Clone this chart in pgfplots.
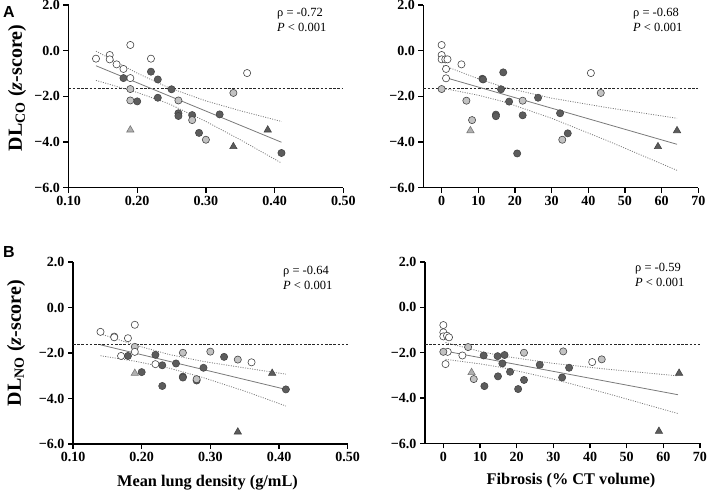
\documentclass[border=0pt]{standalone}
\usepackage{fontspec}
\setmainfont{Liberation Serif}
\newfontfamily\sansfnt{Liberation Sans}
\usepackage{pgfplots}
\pgfplotsset{compat=1.18}
\definecolor{edgec}{HTML}{454545}
\definecolor{lightf}{HTML}{C2C2C2}
\definecolor{darkf}{HTML}{5C5C5C}
\definecolor{tril}{HTML}{B0B0B0}
\definecolor{trile}{HTML}{7A7A7A}
\definecolor{regc}{HTML}{7A7A7A}
\pgfplotsset{
  panel/.style={scale only axis, anchor=south west, clip=false,
    axis lines=left, axis line style={-, line width=1.6pt, black},
    enlargelimits=false,
    tick align=outside, major tick length=5pt,
    every tick/.style={black, line width=1.4pt},
    ymin=-6, ymax=2, ytick={-6,-4,-2,0,2},
    yticklabels={−6.0,−4.0,−2.0,0.0,2.0},
    tick label style={font=\bfseries\fontsize{14}{15}\selectfont},
  },
  dens/.style={xmin=0.1, xmax=0.5, xtick={0.1,0.2,0.3,0.4,0.5},
    xticklabels={0.10,0.20,0.30,0.40,0.50}},
  fib/.style={xmin=-5, xmax=70, xtick={0,10,20,30,40,50,60,70},
    xticklabels={0,10,20,30,40,50,60,70}},
  wht/.style={only marks, mark=*, mark size=3.6pt, mark options={fill=white, draw=edgec, line width=0.6pt}},
  lgt/.style={only marks, mark=*, mark size=3.6pt, mark options={fill=lightf, draw=edgec, line width=0.6pt}},
  drk/.style={only marks, mark=*, mark size=3.6pt, mark options={fill=darkf, draw=edgec, line width=0.6pt}},
  ltri/.style={only marks, mark=triangle*, mark size=4.2pt, mark options={fill=tril, draw=trile, line width=0.6pt}},
  dtri/.style={only marks, mark=triangle*, mark size=4.2pt, mark options={fill=darkf, draw=edgec, line width=0.6pt}},
  reg/.style={no marks, regc, line width=0.8pt},
  band/.style={no marks, regc, line width=0.8pt, dash pattern=on 1pt off 1.4pt},
  lln/.style={no marks, black!85, line width=1.1pt, dash pattern=on 2.6pt off 1.6pt},
}
\begin{document}
\begin{tikzpicture}[x=1pt,y=1pt]
\path[use as bounding box] (0,0) rectangle (709,500);

% ---------- A left ----------
\begin{axis}[panel, dens, at={(68.5pt,312.3pt)}, width=274.8pt, height=182.7pt]
\addplot[lln] coordinates {(0.1,-1.645) (0.5,-1.645)};
\addplot[band] coordinates {(0.14,-0.02) (0.20,-0.985) (0.245,-1.61) (0.30,-2.20) (0.35,-2.63) (0.41,-3.10)};
\addplot[band] coordinates {(0.14,-1.30) (0.20,-1.83) (0.245,-2.31) (0.30,-3.10) (0.35,-3.90) (0.41,-4.92)};
\addplot[reg] coordinates {(0.14,-0.66) (0.41,-4.01)};
\addplot[wht] coordinates {(0.14,-0.35) (0.16,-0.19) (0.16,-0.38) (0.17,-0.60) (0.18,-0.80) (0.19,0.25) (0.19,-1.20) (0.22,-0.35) (0.36,-0.98)};
\addplot[drk] coordinates {(0.18,-1.20) (0.20,-2.22) (0.22,-0.92) (0.23,-1.26) (0.23,-2.06) (0.25,-1.69) (0.26,-2.74) (0.26,-2.86) (0.28,-2.82) (0.29,-3.60) (0.32,-2.79) (0.41,-4.48)};
\addplot[lgt] coordinates {(0.19,-1.68) (0.19,-2.18) (0.26,-2.18) (0.28,-3.04) (0.30,-3.90) (0.34,-1.85)};
\addplot[ltri] coordinates {(0.19,-3.47)};
\addplot[dtri] coordinates {(0.34,-4.20) (0.39,-3.47)};
\end{axis}

% ---------- A right ----------
\begin{axis}[panel, fib, at={(423.3pt,312.3pt)}, width=275pt, height=182.7pt]
\addplot[lln] coordinates {(-5,-1.645) (70,-1.645)};
\addplot[band] coordinates {(0.5,-0.65) (10,-1.23) (17,-1.60) (30,-2.08) (45,-2.49) (64.2,-2.96)};
\addplot[band] coordinates {(0.5,-1.65) (10,-1.95) (17,-2.24) (30,-2.96) (45,-3.93) (64.2,-5.24)};
\addplot[reg] coordinates {(1.5,-1.20) (64.2,-4.10)};
\addplot[wht] coordinates {(0,0.25) (0,-0.19) (0,-0.38) (1.0,-0.38) (1.6,-0.38) (1.2,-0.80) (1.2,-1.21) (5.4,-0.60) (40.7,-0.98)};
\addplot[drk] coordinates {(11.1,-1.23) (11.3,-1.26) (16.8,-0.95) (16.2,-1.69) (18.4,-2.23) (14.8,-2.80) (14.8,-2.87) (22.1,-2.83) (26.3,-2.06) (32.3,-2.74) (34.4,-3.62) (20.6,-4.50)};
\addplot[lgt] coordinates {(0,-1.68) (6.75,-2.19) (8.3,-3.04) (22.1,-2.19) (32.9,-3.90) (43.4,-1.85)};
\addplot[ltri] coordinates {(7.85,-3.50)};
\addplot[dtri] coordinates {(59.0,-4.20) (64.2,-3.50)};
\end{axis}

% ---------- B left ----------
\begin{axis}[panel, dens, at={(73pt,56pt)}, width=274.7pt, height=182pt]
\addplot[lln] coordinates {(0.1,-1.645) (0.5,-1.645)};
\addplot[band] coordinates {(0.14,-1.16) (0.19,-1.647) (0.24,-2.066) (0.29,-2.373) (0.35,-2.655) (0.41,-2.93)};
\addplot[band] coordinates {(0.14,-2.12) (0.19,-2.359) (0.24,-2.666) (0.29,-3.085) (0.35,-3.675) (0.41,-4.33)};
\addplot[reg] coordinates {(0.14,-1.64) (0.41,-3.60)};
\addplot[lgt] coordinates {(0.19,-1.73) (0.26,-1.99) (0.30,-1.94) (0.34,-2.29)};
\addplot[wht] coordinates {(0.14,-1.07) (0.16,-1.28) (0.16,-1.31) (0.18,-1.35) (0.19,-0.76) (0.17,-2.13) (0.19,-1.95) (0.22,-2.49) (0.36,-2.41)};
\addplot[drk] coordinates {(0.18,-2.13) (0.20,-2.84) (0.22,-2.08) (0.23,-2.54) (0.23,-3.45) (0.25,-2.46) (0.26,-3.04) (0.26,-3.08) (0.28,-3.21) (0.29,-2.65) (0.32,-2.17) (0.41,-3.60)};
\addplot[lgt] coordinates {(0.28,-3.15)};
\addplot[ltri] coordinates {(0.19,-2.89)};
\addplot[dtri] coordinates {(0.39,-2.89) (0.34,-5.47)};
\end{axis}

% ---------- B right ----------
\begin{axis}[panel, fib, at={(425pt,56.5pt)}, width=275pt, height=181.5pt]
\addplot[lln] coordinates {(-5,-1.645) (70,-1.645)};
\addplot[band] coordinates {(0.6,-1.55) (10,-1.94) (16,-2.14) (30,-2.47) (45,-2.73) (64,-3.02)};
\addplot[band] coordinates {(0.6,-2.29) (10,-2.49) (16,-2.65) (30,-3.16) (45,-3.81) (64,-4.68)};
\addplot[reg] coordinates {(0.6,-1.93) (64,-3.85)};
\addplot[wht] coordinates {(0,-0.78) (0,-1.10) (0,-1.28) (1.0,-1.25) (1.55,-1.32) (1.2,-1.96) (0.6,-2.50) (5.2,-2.12) (40.6,-2.41)};
\addplot[lgt] coordinates {(0,-1.96) (6.75,-1.75) (8.3,-3.16) (22.0,-2.00) (32.7,-1.94) (43.2,-2.29)};
\addplot[drk] coordinates {(11.0,-2.12) (14.8,-2.15) (16.7,-2.10) (16.1,-2.47) (18.2,-2.84) (14.9,-3.04) (11.2,-3.47) (20.4,-3.60) (22.0,-3.20) (26.3,-2.53) (32.4,-3.09) (34.3,-2.66)};
\addplot[ltri] coordinates {(7.7,-2.87)};
\addplot[dtri] coordinates {(64.3,-2.90) (58.8,-5.46)};
\end{axis}

% ---------- labels ----------
\node[font=\sansfnt\bfseries\fontsize{16}{17}\selectfont] at (9,488) {A};
\node[font=\sansfnt\bfseries\fontsize{16}{17}\selectfont] at (9,248) {B};
\node[rotate=90, font=\bfseries\fontsize{20}{21}\selectfont] at (17,412) {DL\textsubscript{CO} (\textit{z}-score)};
\node[rotate=90, font=\bfseries\fontsize{20}{21}\selectfont] at (16,157) {DL\textsubscript{NO} (\textit{z}-score)};
\node[font=\bfseries\fontsize{16.3}{17}\selectfont] at (207.5,17) {Mean lung density (g/mL)};
\node[font=\bfseries\fontsize{16.3}{17}\selectfont] at (571,19) {Fibrosis (\% CT volume)};

\node[anchor=west, inner sep=0pt, font=\fontsize{12.5}{13}\selectfont] at (277,486) {ρ = -0.72};
\node[anchor=west, inner sep=0pt, font=\fontsize{12.5}{13}\selectfont] at (277,473) {\textit{P} < 0.001};
\node[anchor=west, inner sep=0pt, font=\fontsize{12.5}{13}\selectfont] at (633,486) {ρ = -0.68};
\node[anchor=west, inner sep=0pt, font=\fontsize{12.5}{13}\selectfont] at (633,473) {\textit{P} < 0.001};
\node[anchor=west, inner sep=0pt, font=\fontsize{12.5}{13}\selectfont] at (283,228) {ρ = -0.64};
\node[anchor=west, inner sep=0pt, font=\fontsize{12.5}{13}\selectfont] at (283,215) {\textit{P} < 0.001};
\node[anchor=west, inner sep=0pt, font=\fontsize{12.5}{13}\selectfont] at (635,231) {ρ = -0.59};
\node[anchor=west, inner sep=0pt, font=\fontsize{12.5}{13}\selectfont] at (635,218) {\textit{P} < 0.001};
\end{tikzpicture}
\end{document}
